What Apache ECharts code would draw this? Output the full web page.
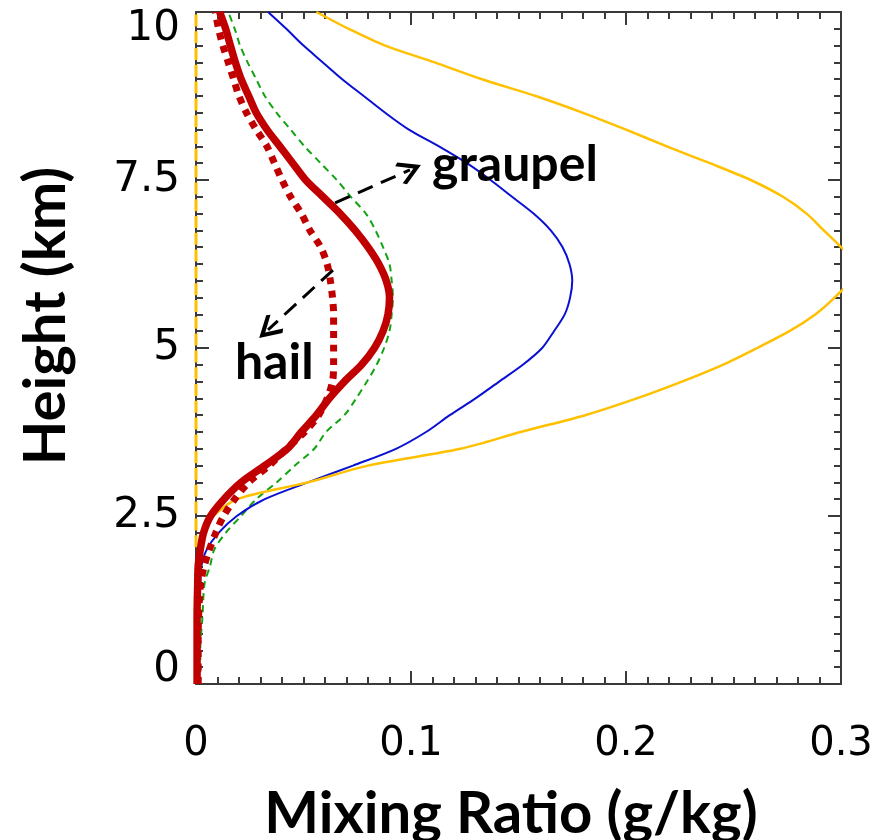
<!DOCTYPE html>
<html>
<head>
<meta charset="utf-8">
<script src="https://cdn.jsdelivr.net/npm/echarts@6/dist/echarts.min.js"></script>
<style>
  html, body { margin: 0; padding: 0; background: #fff; }
  #chart { width: 891px; height: 840px; }
</style>
</head>
<body>
<div id="chart"></div>
<script>
// heights (km) shared by every profile
var heights = [0, 0.5, 1, 1.5, 1.75, 2, 2.25, 2.5, 2.75, 3, 3.25, 3.5, 3.75, 4, 4.25, 4.5, 4.75,
  5, 5.25, 5.5, 5.75, 6, 6.25, 6.5, 6.75, 7, 7.25, 7.5, 7.75, 8, 8.25, 8.5, 8.75, 9, 9.25, 9.5, 9.75, 10];

// mixing ratios (g/kg), one value per height
var graupelQ = [0.0005, 0.0005, 0.0005, 0.0008, 0.001, 0.002, 0.0035, 0.0068, 0.013, 0.021, 0.032, 0.0425, 0.049,
  0.056, 0.062, 0.069, 0.077, 0.083, 0.087, 0.0893, 0.090, 0.0885, 0.085, 0.080, 0.074, 0.067, 0.059, 0.051,
  0.045, 0.039, 0.033, 0.028, 0.0245, 0.021, 0.0183, 0.016, 0.0138, 0.011];
var hailQ = [0.001, 0.001, 0.0012, 0.0022, 0.0038, 0.0062, 0.0092, 0.0128, 0.018, 0.0245, 0.034, 0.042, 0.0505,
  0.057, 0.061, 0.0635, 0.064, 0.064, 0.064, 0.064, 0.0635, 0.0625, 0.061, 0.058, 0.053, 0.049, 0.044, 0.040,
  0.0365, 0.033, 0.028, 0.0235, 0.020, 0.0175, 0.015, 0.0125, 0.0105, 0.009];
var greenQ = [0.002, 0.002, 0.003, 0.004, 0.0065, 0.0085, 0.0138, 0.021, 0.028, 0.0375, 0.046, 0.055, 0.0605,
  0.069, 0.0745, 0.0795, 0.084, 0.0875, 0.090, 0.091, 0.0916, 0.091, 0.090, 0.087, 0.0835, 0.079, 0.072, 0.0655,
  0.058, 0.0505, 0.044, 0.0375, 0.032, 0.028, 0.024, 0.0205, 0.018, 0.015];
var blueQ = [0.001, 0.001, 0.0012, 0.002, 0.0025, 0.005, 0.0105, 0.019, 0.032, 0.052, 0.073, 0.093, 0.107,
  0.118, 0.130, 0.141, 0.152, 0.161, 0.1665, 0.1715, 0.174, 0.175, 0.1737, 0.1705, 0.165, 0.157, 0.147, 0.137,
  0.126, 0.113, 0.099, 0.088, 0.078, 0.068, 0.059, 0.050, 0.042, 0.0335];
var yellowQ = [null, null, null, null, null, null, null, 0.008, 0.019, 0.052, 0.080, 0.123, 0.151,
  0.181, 0.205, 0.226, 0.245, 0.261, 0.276, 0.288, 0.297, 0.304, 0.306, 0.300, 0.292, 0.284, 0.273, 0.258,
  0.239, 0.219, 0.200, 0.180, 0.158, 0.133, 0.111, 0.088, 0.071, 0.056];
// second yellow profile lying on the left axis (zero from 2 km up)
var yellowZeroQ = [null, null, null, null, null, 0, 0, 0, 0, 0, 0, 0, 0, 0, 0, 0, 0, 0, 0, 0, 0, 0, 0, 0, 0,
  0, 0, 0, 0, 0, 0, 0, 0, 0, 0, 0, 0, 0];

// tick labels
var xTicks = [0, 0.1, 0.2, 0.3];
var yTicks = [0, 2.5, 5, 7.5, 10];

// annotations: text anchors and arrows, in data units
var labelNames = ['graupel', 'hail'];
var labelX = [0.1098, 0.0181];
var labelY = [7.72, 4.78];
var arrowFrom = [[0.0647, 7.16], [0.0637, 6.16]];
var arrowTo = [[0.0995, 7.65], [0.0335, 5.27]];

function pairs(vals) {
  var out = [];
  for (var i = 0; i < heights.length; i++) {
    if (vals[i] !== null) out.push([vals[i], heights[i]]);
  }
  return out;
}

var axisColor = '#3a3a3a';
var tickFont = 'DejaVu Sans';
var titleFont = 'Lato';

function xAxisCfg(pos, showLabel) {
  return {
    type: 'value', position: pos, min: xTicks[0], max: xTicks[xTicks.length - 1], interval: 0.1,
    axisLine: { show: true, onZero: false, lineStyle: { color: axisColor, width: 2 } },
    axisTick: { show: true, inside: true, length: 13, lineStyle: { color: axisColor, width: 2 } },
    minorTick: { show: true, splitNumber: 10, length: 7, lineStyle: { color: axisColor, width: 2 } },
    splitLine: { show: false },
    axisLabel: {
      show: showLabel, margin: 41, fontSize: 40, fontFamily: tickFont, color: '#000',
      showMinLabel: true, showMaxLabel: true
    }
  };
}

function yAxisCfg(pos, showLabel) {
  return {
    type: 'value', position: pos, min: yTicks[0], max: yTicks[yTicks.length - 1], interval: 2.5,
    axisLine: { show: true, onZero: false, lineStyle: { color: axisColor, width: 2 } },
    axisTick: { show: true, inside: true, length: 13, lineStyle: { color: axisColor, width: 2 } },
    minorTick: { show: true, splitNumber: 10, length: 7, lineStyle: { color: axisColor, width: 2 } },
    splitLine: { show: false },
    axisLabel: {
      show: showLabel, margin: 16, fontSize: 42, fontFamily: tickFont, color: '#000',
      showMinLabel: true, showMaxLabel: true,
      formatter: function (v) {
        if (v === yTicks[yTicks.length - 1]) return '{t|' + v + '}';
        if (v === yTicks[0]) return '{b|' + v + '}';
        return String(v);
      },
      rich: {
        t: { fontSize: 42, fontFamily: tickFont, color: '#000', padding: [34, 0, 0, 0] },
        b: { fontSize: 42, fontFamily: tickFont, color: '#000', padding: [0, 0, 28, 0] }
      }
    }
  };
}

var chart = echarts.init(document.getElementById('chart'));

var arrowData = [];
for (var a = 0; a < arrowFrom.length; a++) {
  arrowData.push({ coords: [arrowFrom[a], arrowTo[a]] });
}

var option = {
  backgroundColor: '#fff',
  animation: false,
  grid: { left: 196, right: 50, top: 12, bottom: 156, containLabel: false, outerBoundsMode: 'none' },
  xAxis: [xAxisCfg('bottom', true), xAxisCfg('top', false)],
  yAxis: [yAxisCfg('left', true), yAxisCfg('right', false)],
  series: [
    {
      type: 'line', data: pairs(yellowZeroQ), showSymbol: false, silent: true,
      lineStyle: { color: '#ffc000', width: 3, type: [12, 4.8], dashOffset: 14.4, cap: 'butt' }
    },
    {
      type: 'line', data: pairs(greenQ), showSymbol: false, smooth: 0.3, silent: true,
      lineStyle: { color: '#12a312', width: 2, type: [7, 5] }
    },
    {
      type: 'line', data: pairs(blueQ), showSymbol: false, smooth: 0.3, silent: true,
      lineStyle: { color: '#0a10d2', width: 2 }
    },
    {
      type: 'line', data: pairs(yellowQ), showSymbol: false, smooth: 0.3, silent: true,
      lineStyle: { color: '#ffc000', width: 2.5 }
    },
    {
      type: 'line', data: pairs(graupelQ), showSymbol: false, smooth: 0.3, silent: true,
      lineStyle: { color: '#c00000', width: 7.5 }
    },
    {
      type: 'line', data: pairs(hailQ), showSymbol: false, smooth: 0.3, silent: true,
      lineStyle: { color: '#c00000', width: 7, type: [7, 6.5], cap: 'butt' }
    },
    {
      // dashed arrows pointing to the labels
      type: 'lines', coordinateSystem: 'cartesian2d', silent: true, z: 5,
      symbol: ['none', 'path://M0,0 L10,12 L7.8,14 L0,4.8 L-7.8,14 L-10,12 Z'],
      symbolSize: [32, 24],
      lineStyle: { color: '#000', width: 3, type: [16, 9], opacity: 1, curveness: 0 },
      itemStyle: { color: '#000' },
      data: arrowData
    }
  ],
  graphic: [
    {
      type: 'text', x: 46, y: 316, rotation: Math.PI / 2,
      style: { text: 'Height (km)', font: 'bold 58px ' + titleFont, fill: '#000', align: 'center', verticalAlign: 'middle' }
    },
    {
      type: 'text', x: 511, y: 814,
      style: { text: 'Mixing Ratio (g/kg)', font: 'bold 58px ' + titleFont, fill: '#000', align: 'center', verticalAlign: 'middle' }
    }
  ]
};

chart.setOption(option);

// annotation words placed through the grid's own scales
var words = [];
for (var k = 0; k < labelNames.length; k++) {
  var pt = chart.convertToPixel({ gridIndex: 0 }, [labelX[k], labelY[k]]);
  words.push({
    type: 'text', x: pt[0], y: pt[1], z: 10,
    style: { text: labelNames[k], font: 'bold 50px ' + titleFont, fill: '#000', align: 'left', verticalAlign: 'middle' }
  });
}
chart.setOption({ graphic: option.graphic.concat(words) });
</script>
</body>
</html>
